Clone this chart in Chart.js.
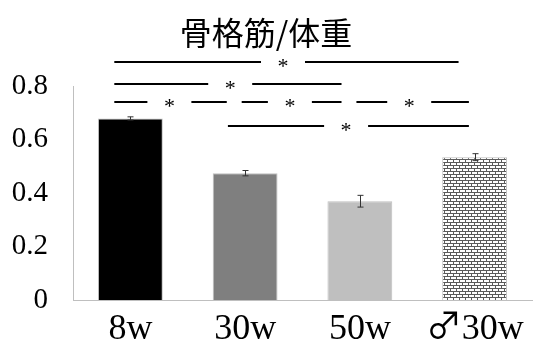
<!DOCTYPE html>
<html><head><meta charset="utf-8">
<script src="https://cdn.jsdelivr.net/npm/chart.js@4/dist/chart.umd.min.js"></script>
<style>
html,body{margin:0;padding:0;background:#fff;}#wrap{width:535px;height:349px;}
@font-face { font-family: 'MaleSym'; src: local('Noto Sans CJK JP'), local('NotoSansCJKjp-Regular'), local('Noto Sans CJK JP Regular'); unicode-range: U+2642; }
</style>
</head><body><div id="wrap"><canvas id="c" width="535" height="349"></canvas></div>
<script>
const categories = ['8w', '30w', '50w', '♂30w'];
const values = [0.68, 0.475, 0.37, 0.535];
const errors = [0.006, 0.01, 0.022, 0.013];
const yTicks = [0, 0.2, 0.4, 0.6, 0.8];
// significance brackets: [from index, to index, level value, star position]
const brackets = [
  [-0.14, 2.86, 0.89, 1.33],
  [-0.14, 1.84, 0.81, 0.87],
  [-0.14, 0.84, 0.74, 0.34],
  [0.97, 1.84, 0.74, 1.39],
  [1.97, 2.95, 0.74, 2.43],
  [0.85, 2.95, 0.653, 1.88]
];

function brickPattern() {
  const t = document.createElement('canvas');
  t.width = 6; t.height = 6;
  const g = t.getContext('2d');
  g.fillStyle = '#ffffff'; g.fillRect(0, 0, 6, 6);
  g.fillStyle = '#5a5a5a';
  g.fillRect(0, 0, 6, 1);
  g.fillRect(0, 3, 6, 1);
  g.fillRect(0, 1, 1, 2);
  g.fillRect(3, 4, 1, 2);
  return document.getElementById('c').getContext('2d').createPattern(t, 'repeat');
}

const serif = '"Liberation Serif", "DejaVu Serif", serif';
const xFont = 'MaleSym, "Liberation Serif", serif';

const overlay = {
  id: 'overlay',
  afterDatasetsDraw(chart) {
    const ctx = chart.ctx;
    const xs = chart.scales.x, ys = chart.scales.y;
    ctx.save();
    ctx.strokeStyle = '#333';
    ctx.lineWidth = 1;
    values.forEach((v, i) => {
      const x = Math.round(xs.getPixelForValue(i)) + 0.5;
      const y1 = ys.getPixelForValue(v + errors[i]);
      const y2 = ys.getPixelForValue(v - errors[i]);
      ctx.beginPath();
      ctx.moveTo(x, y1); ctx.lineTo(x, y2);
      ctx.moveTo(x - 3, y1); ctx.lineTo(x + 3, y1);
      ctx.moveTo(x - 3, y2); ctx.lineTo(x + 3, y2);
      ctx.stroke();
    });
    const step = xs.getPixelForValue(1) - xs.getPixelForValue(0);
    ctx.strokeStyle = '#000';
    ctx.lineWidth = 2;
    ctx.fillStyle = '#000';
    ctx.font = '22px ' + serif;
    ctx.textAlign = 'center';
    ctx.textBaseline = 'middle';
    brackets.forEach(b => {
      const xa = xs.getPixelForValue(0) + b[0] * step;
      const xb = xs.getPixelForValue(0) + b[1] * step;
      const xc = xs.getPixelForValue(0) + b[3] * step;
      const y = Math.round(ys.getPixelForValue(b[2]));
      const gap = 22;
      ctx.beginPath();
      ctx.moveTo(xa, y); ctx.lineTo(xc - gap, y);
      ctx.moveTo(xc + gap, y); ctx.lineTo(xb, y);
      ctx.stroke();
      ctx.fillText('*', xc, y + 5);
    });
    ctx.restore();
  }
};

function build() {
  new Chart(document.getElementById('c'), {
    type: 'bar',
    data: {
      labels: categories,
      datasets: [{
        data: values,
        backgroundColor: ['#000000', '#7f7f7f', '#bfbfbf', brickPattern()],
        borderColor: ['#bfbfbf', '#bfbfbf', '#bfbfbf', '#bfbfbf'],
        borderWidth: 1,
        categoryPercentage: 1,
        barPercentage: 0.565
      }]
    },
    options: {
      responsive: false,
      animation: false,
      devicePixelRatio: 1,
      layout: { padding: { left: 0, right: 3, top: 0, bottom: 0 } },
      plugins: {
        legend: { display: false },
        tooltip: { enabled: false },
        title: {
          display: true,
          text: '骨格筋/体重',
          color: '#000',
          font: { family: '"Noto Sans CJK JP", sans-serif', size: 32, weight: 'normal' },
          padding: { top: 14, bottom: 34 }
        }
      },
      scales: {
        x: {
          grid: { display: false, drawTicks: false },
          border: { display: true, color: '#bfbfbf', width: 1 },
          ticks: { color: '#000', font: { family: xFont, size: 36 }, padding: 8 },
          afterFit(s) { s.height = 49; }
        },
        y: {
          min: 0, max: 0.8,
          afterBuildTicks(s) { s.ticks = yTicks.map(v => ({ value: v })); },
          grid: { display: false, drawTicks: false },
          border: { display: true, color: '#bfbfbf', width: 1 },
          ticks: {
            color: '#000', font: { family: serif, size: 29 }, padding: 25,
            callback: v => String(v)
          },
          afterFit(s) { s.width = 73; }
        }
      }
    },
    plugins: [overlay]
  });
}
let done = false;
function go() { if (!done) { done = true; build(); } }
if (document.fonts && document.fonts.load) {
  document.fonts.load('36px MaleSym', '♂').then(go, go);
  setTimeout(go, 500);
} else { go(); }
</script></body></html>
